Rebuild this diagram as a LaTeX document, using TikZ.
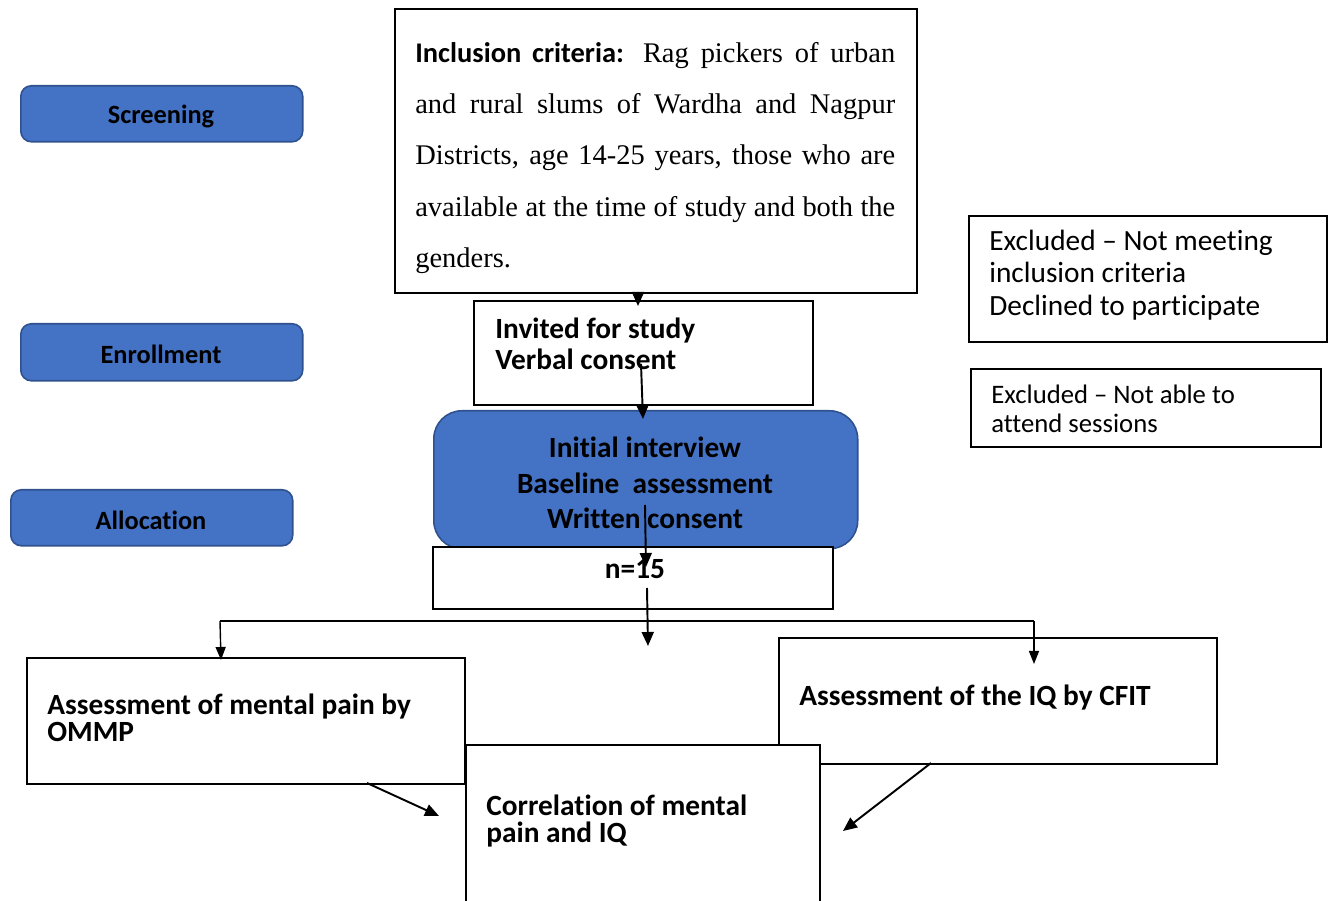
\documentclass[tikz,border=0pt]{standalone}
\usepackage{fontspec}
\setmainfont{Liberation Serif}
\newfontfamily\carl[Ligatures={NoCommon}]{Carlito}
\usetikzlibrary{arrows.meta}
\definecolor{wblue}{HTML}{4472C4}
\definecolor{wborder}{HTML}{2F528F}
\tikzset{
  pbox/.style={draw=black, line width=1.1pt, fill=white, inner sep=0pt, anchor=north west},
  bluebox/.style={draw=wborder, line width=0.9pt, fill=wblue, inner sep=0pt, anchor=north west, rounded corners=6pt},
  lab/.style={inner sep=0pt, font=\carl\bfseries\fontsize{15}{18}\selectfont},
  btext/.style={inner sep=0pt, anchor=west, align=left},
  arr/.style={line width=1.1pt, -{Triangle[length=0.28cm,width=0.24cm]}},
  thinarr/.style={line width=0.8pt, -{Triangle[length=0.26cm,width=0.2cm]}},
}
\begin{document}
\begin{tikzpicture}[x=0.02cm, y=-0.02cm]
\useasboundingbox (0,0) rectangle (1330,901);
% left stage labels
\node[bluebox, minimum width=5.64cm, minimum height=1.12cm] (scr) at (20,85) {};
\node[lab] at (161,116) {Screening};
\node[bluebox, minimum width=5.64cm, minimum height=1.14cm] (enr) at (20,323) {};
\node[lab] at (161,354) {Enrollment};
\node[bluebox, minimum width=5.64cm, minimum height=1.12cm] (alo) at (10,489) {};
\node[lab] at (151,520) {Allocation};
% inclusion criteria
\node[pbox, minimum width=10.44cm, minimum height=5.68cm] (inc) at (394,8) {};
\node[inner sep=0pt, anchor=north west, text width=9.6cm, align=justify,
      font=\fontsize{16.2}{29.2}\selectfont] (inctext) at (415,42)
  {{\carl\bfseries Inclusion criteria:} Rag pickers of urban\linebreak
   and rural slums of Wardha and Nagpur\linebreak
   Districts, age 14-25 years, those who are\linebreak
   available at the time of study and both the\linebreak
   genders.};
% invited
\node[pbox, minimum width=6.78cm, minimum height=2.08cm] (inv) at (473,300) {};
\node[btext, font=\carl\bfseries\fontsize{16.7}{17.6}\selectfont] (invtext) at (495,344)
  {Invited for study\\Verbal consent};
% initial interview
\node[bluebox, rounded corners=16pt, minimum width=8.48cm, minimum height=2.76cm] (ini) at (433,410) {};
\node[inner sep=0pt, align=center, font=\carl\bfseries\fontsize{16.7}{20.2}\selectfont] (initext) at (645,483)
  {Initial interview\\Baseline\ \ assessment\\Written consent};
% n=15
\node[pbox, minimum width=8.0cm, minimum height=1.24cm] (n15) at (432,546) {};
\node[inner sep=0pt, font=\carl\bfseries\fontsize{16.7}{18}\selectfont] (ntext) at (635,569) {n=15};
% excluded boxes
\node[pbox, minimum width=7.16cm, minimum height=2.52cm] (ex1) at (968,215) {};
\node[btext, font=\carl\fontsize{16.7}{18.4}\selectfont] (ex1text) at (989,275)
  {Excluded – Not meeting\\inclusion criteria\\Declined to participate};
\node[pbox, minimum width=7.0cm, minimum height=1.56cm] (ex2) at (970,368) {};
\node[btext, font=\carl\fontsize{15.2}{16.4}\selectfont] (ex2text) at (991,409)
  {Excluded – Not able to\\attend sessions};
% branch line
\coordinate (bl) at (220,621);
\coordinate (br) at (1034,621);
\draw[line width=0.8pt] (bl) -- (br);
% lower boxes
\node[pbox, minimum width=8.76cm, minimum height=2.52cm] (ommp) at (26,657) {};
\node[btext, font=\carl\bfseries\fontsize{16.7}{15.6}\selectfont] (ommptext) at (47,718)
  {Assessment of mental pain by\\OMMP};
\node[pbox, minimum width=8.76cm, minimum height=2.52cm] (cfit) at (778,637) {};
\node[btext, font=\carl\bfseries\fontsize{16.7}{15.6}\selectfont] (cfittext) at (799,698)
  {Assessment of the IQ by CFIT};
\node[pbox, minimum width=7.08cm, minimum height=3.3cm] (corr) at (465,744) {};
\node[btext, font=\carl\bfseries\fontsize{16.7}{15.6}\selectfont] (corrtext) at (486,821)
  {Correlation of mental\\pain and IQ};
% connectors
\coordinate (a1) at (638,292);
\coordinate (a1e) at (638,306);
\draw[arr] (a1) -- (a1e);
\coordinate (a2) at (641,364);
\coordinate (a2e) at (643,419);
\draw[arr] (a2) -- (a2e);
\coordinate (a3) at (645,505);
\coordinate (a3e) at (646,567);
\draw[arr] (a3) -- (a3e);
\coordinate (a4) at (647,588);
\coordinate (a4e) at (648,646);
\draw[arr] (a4) -- (a4e);
\coordinate (a5e) at (221,660);
\draw[thinarr] (bl) -- (a5e);
\coordinate (a6e) at (1034,664);
\draw[thinarr] (br) -- (a6e);
\coordinate (a7) at (367,783);
\coordinate (a7e) at (439,816);
\draw[arr] (a7) -- (a7e);
\coordinate (a8) at (931,763);
\coordinate (a8e) at (843,831);
\draw[arr] (a8) -- (a8e);
\end{tikzpicture}
\end{document}
